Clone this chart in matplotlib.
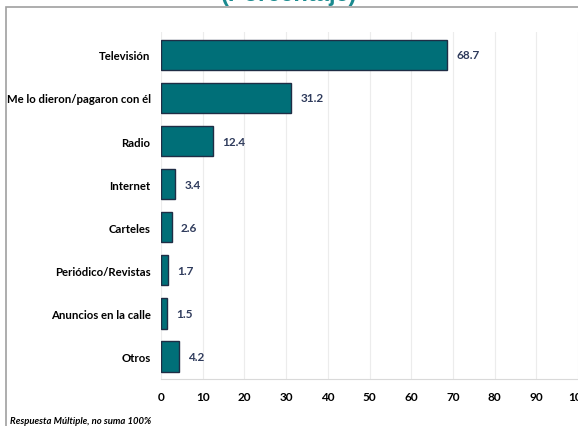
import matplotlib.pyplot as plt
from matplotlib.patches import Rectangle

categorias = ['Televisión', 'Me lo dieron/pagaron con él', 'Radio', 'Internet',
              'Carteles', 'Periódico/Revistas', 'Anuncios en la calle', 'Otros']
valores = [68.7, 31.2, 12.4, 3.4, 2.6, 1.7, 1.5, 4.2]
ticks_x = [0, 10, 20, 30, 40, 50, 60, 70, 80, 90, 100]

plt.rcParams['font.family'] = ['Lato', 'DejaVu Sans']

fig = plt.figure(figsize=(5.78, 4.27), dpi=100)
fig.patch.set_facecolor('white')

# marco gris del grafico
fig.patches.append(Rectangle((6 / 578, -0.05), 1.0, 1 - 8 / 427 + 0.05,
                             transform=fig.transFigure, fill=False,
                             edgecolor='#a0a0a0', linewidth=1.2))

fig.text(0.50, 1.012, '(Porcentaje)', ha='center', va='center',
         fontsize=17, fontweight='bold', color='#1b8a8f',
         family=['Liberation Sans', 'DejaVu Sans'])

ax = fig.add_axes([161 / 578, 1 - 380 / 427, 1 - 161 / 578, (380 - 33) / 427])
y = range(len(categorias))
ax.barh(y, valores, height=0.7, color='#006f78', edgecolor='#1f2d45',
        linewidth=1.0, zorder=3)
for i, v in enumerate(valores):
    ax.text(v + 2.2, i, f'{v:.1f}', va='center', ha='left', fontsize=8.5,
            fontweight='bold', color='#2f3b5c')

ax.set_xlim(0, 100)
ax.set_ylim(len(categorias) - 0.48, -0.53)
ax.set_xticks(ticks_x)
ax.set_xticklabels([str(t) for t in ticks_x], fontsize=8.5, fontweight='bold')
ax.set_yticks(list(y))
ax.set_yticklabels(categorias, fontsize=8.2, fontweight='bold')
ax.tick_params(axis='both', length=0)
ax.tick_params(axis='x', pad=9)
ax.tick_params(axis='y', pad=7.5)
ax.grid(axis='x', color='#ececec', linewidth=0.8, zorder=0)
for s in ['left', 'right', 'top']:
    ax.spines[s].set_visible(False)
ax.spines['bottom'].set_color('#d9d9d9')

fig.text(10 / 578, 1 - 422 / 427, 'Respuesta Múltiple, no suma 100%',
         fontsize=6.8, fontstyle='italic', fontweight='bold', ha='left', va='center')

fig.savefig('out.png', dpi=100)
